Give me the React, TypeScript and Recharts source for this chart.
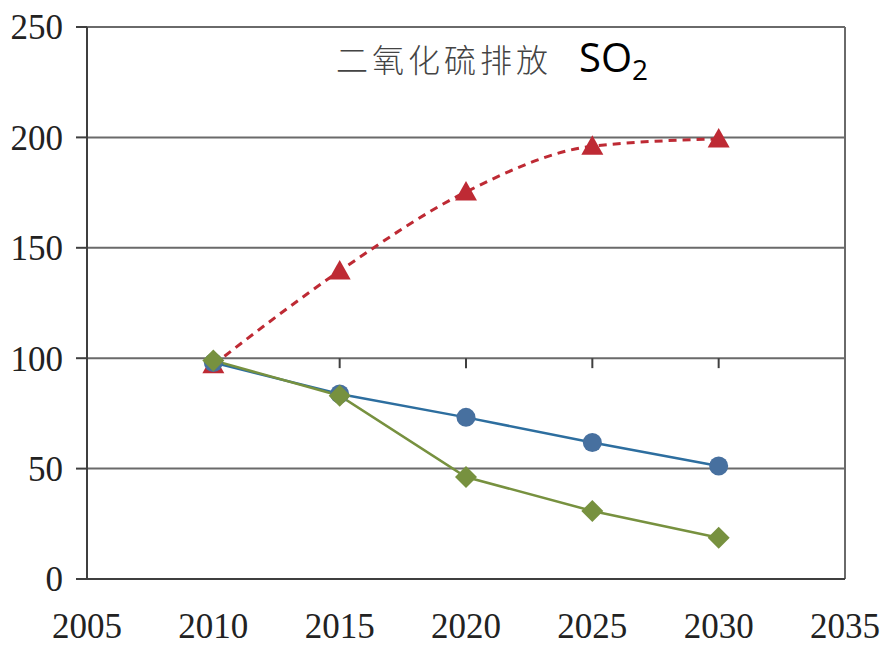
import React from 'react';
import {
  LineChart,
  Line,
  XAxis,
  YAxis,
  CartesianGrid,
  ReferenceLine,
} from 'recharts';

// SO2 emission scenarios, 2010-2030
const years = [2010, 2015, 2020, 2025, 2030];
const baseline = [97, 139.5, 175.3, 196, 199.3];
const policy = [98, 83.8, 73.2, 61.8, 51.2];
const enhanced = [99, 83, 46.2, 30.8, 18.7];

const xTicks = [2005, 2010, 2015, 2020, 2025, 2030, 2035];
const yTicks = [0, 50, 100, 150, 200, 250];

const data = years.map((year, i) => ({
  year,
  baseline: baseline[i],
  policy: policy[i],
  enhanced: enhanced[i],
}));

const RED = '#be2a34';
const BLUE_LINE = '#2d6e9f';
const BLUE_DOT = '#47709f';
const GREEN = '#77913f';
const AXIS = '#3f3f3f';
const GRID = '#6a6a6a';

const serif = '"Liberation Serif", "DejaVu Serif", serif';

const Triangle = (props: any) => {
  const { cx, cy } = props;
  if (cx == null || cy == null) return null;
  return (
    <path
      d={`M${cx},${cy - 11} L${cx + 11},${cy + 8.5} L${cx - 11},${cy + 8.5} Z`}
      fill={RED}
    />
  );
};

const Circle = (props: any) => {
  const { cx, cy } = props;
  if (cx == null || cy == null) return null;
  return <circle cx={cx} cy={cy} r={9.5} fill={BLUE_DOT} />;
};

const Diamond = (props: any) => {
  const { cx, cy } = props;
  if (cx == null || cy == null) return null;
  return (
    <path
      d={`M${cx},${cy - 11} L${cx + 11},${cy} L${cx},${cy + 11} L${cx - 11},${cy} Z`}
      fill={GREEN}
    />
  );
};

const App: React.FC = () => {
  return (
    <div style={{ position: 'absolute', left: 0, top: 0, width: 882, height: 647, background: '#fff' }}>
      <LineChart
        width={882}
        height={647}
        data={data}
        margin={{ top: 27, right: 37, bottom: 8, left: 0 }}
      >
        <CartesianGrid vertical={false} stroke={GRID} strokeWidth={2} horizontalValues={yTicks} />
        <XAxis
          type="number"
          dataKey="year"
          domain={[2005, 2035]}
          ticks={xTicks}
          interval={0}
          height={60}
          axisLine={{ stroke: AXIS, strokeWidth: 2 }}
          tickLine={false}
          tickMargin={28}
          tick={{ fontSize: 35, fontFamily: serif, fill: '#222' }}
        />
        <YAxis
          type="number"
          domain={[0, 250]}
          ticks={yTicks}
          interval={0}
          width={87}
          axisLine={{ stroke: AXIS, strokeWidth: 2 }}
          tickLine={{ stroke: AXIS, strokeWidth: 2 }}
          tickSize={11}
          tickMargin={13}
          tick={{ fontSize: 35, fontFamily: serif, fill: '#222' }}
        />
        <ReferenceLine x={2035} stroke={GRID} strokeWidth={2} />
        {years.map((y) => (
          <ReferenceLine
            key={y}
            segment={[
              { x: y, y: 100 },
              { x: y, y: 95.5 },
            ]}
            stroke={AXIS}
            strokeWidth={2}
          />
        ))}
        <Line
          type="monotone"
          dataKey="baseline"
          stroke={RED}
          strokeWidth={3}
          strokeDasharray="8 6"
          dot={<Triangle />}
          activeDot={false}
          isAnimationActive={false}
        />
        <Line
          type="linear"
          dataKey="policy"
          stroke={BLUE_LINE}
          strokeWidth={2.5}
          dot={<Circle />}
          activeDot={false}
          isAnimationActive={false}
        />
        <Line
          type="linear"
          dataKey="enhanced"
          stroke={GREEN}
          strokeWidth={2.5}
          dot={<Diamond />}
          activeDot={false}
          isAnimationActive={false}
        />
      </LineChart>
      <div
        style={{
          position: 'absolute',
          left: 336,
          top: 29,
          display: 'flex',
          alignItems: 'baseline',
          whiteSpace: 'nowrap',
        }}
      >
        <span
          style={{
            fontFamily: '"Noto Sans CJK SC", sans-serif',
            fontSize: 32,
            fontWeight: 300,
            letterSpacing: 4,
            color: '#444',
          }}
        >
          二氧化硫排放
        </span>
        <span
          style={{
            marginLeft: 27,
            fontFamily: '"Open Sans", "Noto Sans", sans-serif',
            fontSize: 40,
            color: '#000',
          }}
        >
          SO<sub style={{ fontSize: 28, verticalAlign: '-0.3em' }}>2</sub>
        </span>
      </div>
    </div>
  );
};

export default App;
